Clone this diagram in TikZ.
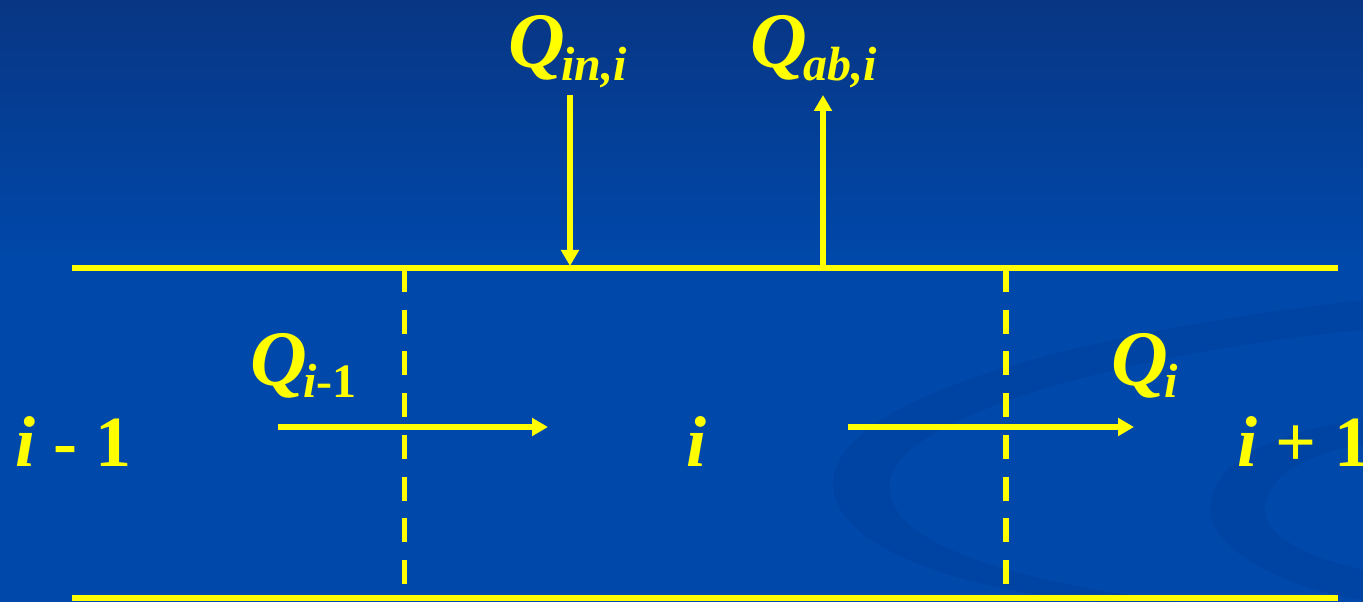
\documentclass[tikz,border=0pt]{standalone}
\usepackage{fontspec}
\setmainfont{Liberation Serif}
\usetikzlibrary{arrows.meta}
\definecolor{bgtop}{RGB}{8,54,132}
\definecolor{bgmid}{RGB}{0,72,170}
\definecolor{swirl}{RGB}{0,64,156}
\definecolor{ylw}{RGB}{255,255,0}
\tikzset{
  ln/.style={draw=ylw,line width=4.3pt},
  dln/.style={draw=ylw,line width=4.3pt,dash pattern=on 18pt off 13.3pt},
  arr/.style={draw=ylw,line width=4.3pt,-{Triangle[length=12pt,width=13pt]}},
  lbl/.style={text=ylw,inner sep=0pt,anchor=base west,font=\fontsize{54}{60}\selectfont\bfseries},
}
\newcommand{\bigQ}{{\fontsize{59}{64}\selectfont\itshape Q}}
\newcommand{\sbs}[1]{\kern-3pt\raisebox{-9.5pt}{\fontsize{36}{40}\selectfont #1}}
\begin{document}
\begin{tikzpicture}[x=0.75pt,y=-0.75pt]
\useasboundingbox (0,0) rectangle (1363,602);
\fill[bgmid] (0,0) rectangle (1363,602);
\shade[top color=bgtop,bottom color=bgmid] (0,0) rectangle (1363,260);
% faint swirl of the slide template
\fill[swirl,opacity=0.45] (1363,300) .. controls (1100,330) and (860,390) .. (835,470)
  .. controls (815,540) and (950,590) .. (1100,602) -- (1180,602)
  .. controls (1000,580) and (880,540) .. (890,480)
  .. controls (905,410) and (1150,350) .. (1363,330) -- cycle;
\fill[swirl,opacity=0.45] (1363,420) .. controls (1280,430) and (1210,460) .. (1210,510)
  .. controls (1210,550) and (1290,590) .. (1363,600) -- (1363,570)
  .. controls (1320,560) and (1260,540) .. (1265,505)
  .. controls (1270,470) and (1320,450) .. (1363,445) -- cycle;
% coordinates
\coordinate (tl) at (72,268);
\coordinate (tr) at (1338,268);
\coordinate (bl) at (72,598);
\coordinate (br) at (1338,598);
\coordinate (d1t) at (404.5,268);
\coordinate (d1b) at (404.5,584);
\coordinate (d2t) at (1006,268);
\coordinate (d2b) at (1006,584);
\coordinate (inS) at (570,95);
\coordinate (inE) at (570,266);
\coordinate (abS) at (823,270);
\coordinate (abE) at (823,95);
\coordinate (q1S) at (278,427);
\coordinate (q1E) at (548,427);
\coordinate (q2S) at (848,427);
\coordinate (q2E) at (1134,427);
% lines
\draw[ln] (tl) -- (tr);
\draw[ln] (bl) -- (br);
\draw[dln] (d1t) -- (d1b);
\draw[dln] (d2t) -- (d2b);
% arrows
\draw[arr] (inS) -- (inE);
\draw[arr] (abS) -- (abE);
\draw[arr] (q1S) -- (q1E);
\draw[arr] (q2S) -- (q2E);
% labels
\node[lbl] (qin) at (508,68) {\bigQ\sbs{\itshape in,i}};
\node[lbl] (qab) at (750,68) {\bigQ\sbs{\itshape ab,i}};
\node[lbl] (qim) at (250,385) {\bigQ\sbs{\textit{i}-1}};
\node[lbl] (qi) at (1111,385) {\bigQ\sbs{\itshape i}};
\node[lbl] (lm) at (15,466) {\textit{i} - 1};
\node[lbl] (lc) at (686,466) {\textit{i}};
\node[lbl] (lp) at (1237,466) {\textit{i} + 1};
\end{tikzpicture}
\end{document}
